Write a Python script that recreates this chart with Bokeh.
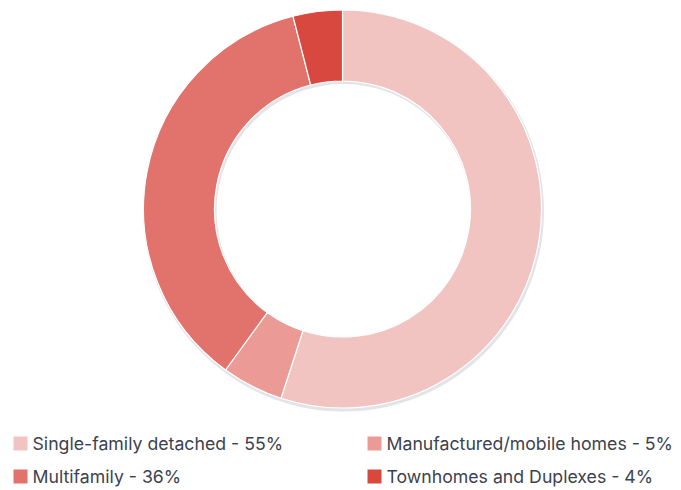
import math
from bokeh.plotting import figure
from bokeh.models import ColumnDataSource
from bokeh.core.properties import value
from bokeh.embed import file_html
from bokeh.resources import INLINE

categories = ["Single-family detached", "Manufactured/mobile homes", "Multifamily", "Townhomes and Duplexes"]
shares = [55, 5, 36, 4]
colors = ["#f2c4c1", "#eb9a96", "#e2736c", "#d9483f"]
labels = [f"{c} - {s}%" for c, s in zip(categories, shares)]

W, H = 681, 490
p = figure(width=W, height=H, x_range=(0, W), y_range=(0, H), output_backend="svg",
           toolbar_location=None, min_border=0, outline_line_color=None)
p.axis.visible = False
p.grid.visible = False
p.background_fill_color = "white"
p.border_fill_color = "white"

cx, cy = 342, H - 208.5
r_out, r_in = 199, 128

total = sum(shares)
starts, ends = [], []
cum = 0
for s in shares:
    starts.append(math.pi / 2 - 2 * math.pi * cum / total)
    cum += s
    ends.append(math.pi / 2 - 2 * math.pi * cum / total)

# soft shadow
p.annulus(x=cx + 1, y=cy - 2, inner_radius=r_in - 1, outer_radius=r_out + 1.5,
          fill_color="#8a93a3", fill_alpha=0.25, line_color=None)

src = ColumnDataSource(dict(start=starts, end=ends, color=colors))
p.annular_wedge(x=cx, y=cy, inner_radius=r_in, outer_radius=r_out, start_angle="start",
                end_angle="end", direction="clock", fill_color="color", line_color="white",
                line_width=1.2, source=src)

# legend
lx = [20, 374, 20, 374]
ly = [H - 443, H - 443, H - 476, H - 476]
tx = [32, 386, 32, 386]
lsrc = ColumnDataSource(dict(x=lx, y=ly, tx=tx, color=colors, label=labels))
p.rect(x="x", y="y", width=14, height=14, fill_color="color", line_color=None, source=lsrc)
p.text(x="tx", y="y", text="label", text_font=value("Inter"), text_font_size="17.7px",
       text_color="#3c4250", text_baseline="middle", text_align="left", source=lsrc)

open("out.html", "w").write(file_html(p, INLINE))
